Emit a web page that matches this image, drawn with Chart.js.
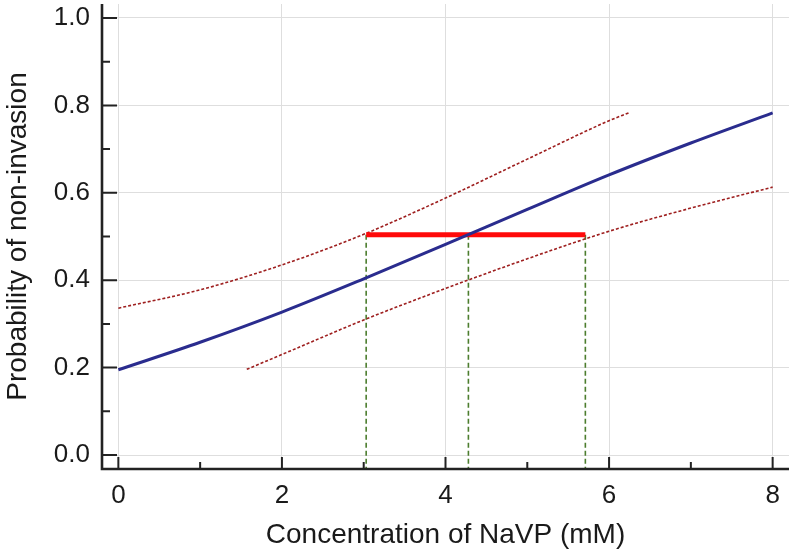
<!DOCTYPE html>
<html><head><meta charset="utf-8">
<script src="https://cdn.jsdelivr.net/npm/chart.js@4"></script>
<style>html,body{margin:0;padding:0;background:#fff}#wrap{width:792px;height:556px;position:relative}</style>
</head><body><div id="wrap"><canvas id="c"></canvas></div>
<script>
// ---- data ----
const xMajorTicks = [0, 2, 4, 6, 8];
const xMinorTicks = [1, 3, 5, 7];
const yMajorTicks = [0, 0.2, 0.4, 0.6, 0.8, 1.0];
const yMinorTicks = [0.1, 0.3, 0.5, 0.7, 0.9];

const fitX = [0, 1, 2, 3, 4, 5, 6, 7, 8];
const fitY = [0.195, 0.258, 0.327, 0.403, 0.482, 0.562, 0.641, 0.714, 0.783];

const upperX = [0, 1, 2, 3, 4, 5, 6, 6.24];
const upperY = [0.336, 0.378, 0.435, 0.505, 0.588, 0.677, 0.765, 0.783];

const lowerX = [1.57, 2, 3, 4, 5, 6, 7, 8];
const lowerY = [0.196, 0.230, 0.309, 0.381, 0.449, 0.512, 0.565, 0.613];

const barX = [3.03, 5.71];
const barY = [0.504, 0.504];

const dropX = [3.03, 4.28, 5.71];
const dropTop = 0.504;
const dropBottom = -0.032;

const xTitle = 'Concentration of NaVP (mM)';
const yTitle = 'Probability of non-invasion';

// ---- build ----
const pts = (xs, ys) => xs.map((x, i) => ({x, y: ys[i]}));
const FONT = 'Liberation Sans, Arial, Helvetica, sans-serif';
const TXT = '#1a1a1a';

const datasets = [
  {data: pts(fitX, fitY), borderColor: '#2a2c8e', borderWidth: 3, cubicInterpolationMode: 'monotone', order: 1},
  {data: pts(barX, barY), borderColor: '#ff0a0a', borderWidth: 5, order: 2},
  {data: pts(upperX, upperY), borderColor: '#9e1f1f', borderWidth: 1.6, borderDash: [3, 2], cubicInterpolationMode: 'monotone', order: 3},
  {data: pts(lowerX, lowerY), borderColor: '#9e1f1f', borderWidth: 1.6, borderDash: [3, 2], cubicInterpolationMode: 'monotone', order: 3},
];
dropX.forEach(x => datasets.push({data: [{x, y: dropTop}, {x, y: dropBottom}], borderColor: '#4c7d2e', borderWidth: 1.6, borderDash: [5, 3], order: 4}));
datasets.forEach(d => { d.pointRadius = 0; d.fill = false; d.tension = 0; });

const axisPlugin = {
  id: 'axisPlugin',
  afterDraw(chart) {
    const {ctx, chartArea: a, scales: {x, y}} = chart;
    ctx.save();
    ctx.strokeStyle = '#222';
    ctx.lineCap = 'butt';
    ctx.lineWidth = 2;
    ctx.beginPath();
    yMajorTicks.forEach(v => { const p = y.getPixelForValue(v); ctx.moveTo(a.left, p); ctx.lineTo(a.left + 15, p); });
    yMinorTicks.forEach(v => { const p = y.getPixelForValue(v); ctx.moveTo(a.left, p); ctx.lineTo(a.left + 8, p); });
    xMajorTicks.forEach(v => { const p = x.getPixelForValue(v); ctx.moveTo(p, a.bottom); ctx.lineTo(p, a.bottom - 12); });
    xMinorTicks.forEach(v => { const p = x.getPixelForValue(v); ctx.moveTo(p, a.bottom); ctx.lineTo(p, a.bottom - 7); });
    ctx.stroke();
    ctx.lineWidth = 2.6;
    ctx.beginPath();
    ctx.moveTo(a.left, a.top);
    ctx.lineTo(a.left, a.bottom);
    ctx.lineTo(a.right, a.bottom);
    ctx.stroke();
    ctx.restore();
  }
};

new Chart(document.getElementById('c'), {
  type: 'line',
  data: {datasets},
  plugins: [axisPlugin],
  options: {
    responsive: true,
    maintainAspectRatio: false,
    animation: false,
    layout: {padding: {top: 4, right: 3, left: 0, bottom: 0}},
    plugins: {legend: {display: false}, tooltip: {enabled: false}},
    scales: {
      x: {
        type: 'linear', min: -0.2, max: 8.2,
        afterBuildTicks: s => { s.ticks = xMajorTicks.map(v => ({value: v})); },
        afterFit: s => { s.height = 87; s.paddingLeft = 0; s.paddingRight = 0; },
        grid: {color: '#dedede', lineWidth: 1, drawTicks: false},
        border: {display: false},
        ticks: {font: {family: FONT, size: 26}, color: TXT, padding: 11, maxRotation: 0, autoSkip: false, callback: v => String(v)},
        title: {display: true, text: xTitle, color: TXT, font: {family: FONT, size: 28}, padding: {top: 0, bottom: 4}}
      },
      y: {
        type: 'linear', min: -0.032, max: 1.032,
        afterBuildTicks: s => { s.ticks = yMajorTicks.map(v => ({value: v})); },
        afterFit: s => { s.width = 102; s.paddingTop = 0; s.paddingBottom = 0; },
        grid: {color: '#dedede', lineWidth: 1, drawTicks: false},
        border: {display: false},
        ticks: {font: {family: FONT, size: 26}, color: TXT, padding: 12, autoSkip: false, callback: v => Number(v).toFixed(1)},
        title: {display: true, text: yTitle, color: TXT, font: {family: FONT, size: 28}, padding: {top: 1, bottom: 0}}
      }
    }
  }
});
</script></body></html>
